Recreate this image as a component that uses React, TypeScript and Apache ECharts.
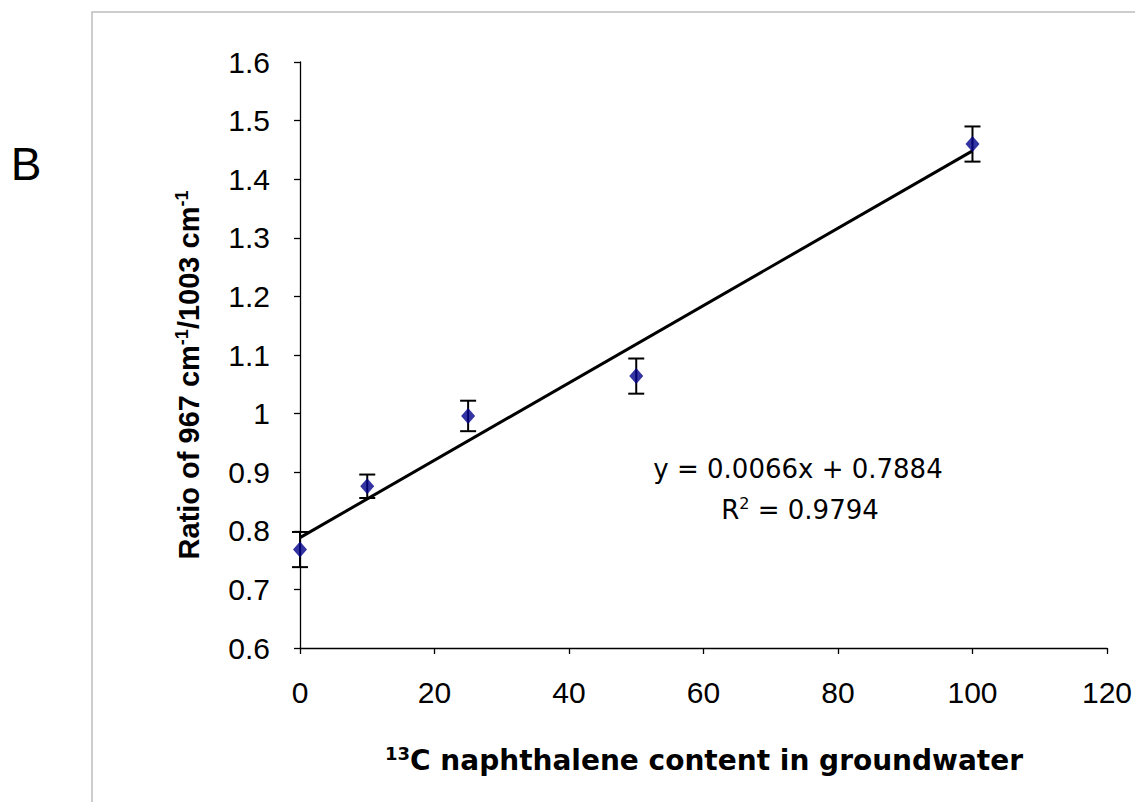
import React, { useEffect, useRef } from "react";
import * as echarts from "echarts";

const xValues = [0, 10, 25, 50, 100];
const yValues = [0.768, 0.876, 0.996, 1.064, 1.46];
const yErrors = [0.03, 0.02, 0.026, 0.03, 0.03];
const trendSlope = 0.0066;
const trendIntercept = 0.7884;
const trendRange = [0, 100];
const equationText = "y = 0.0066x + 0.7884";
const r2Text = "0.9794";
const xTitle = "C naphthalene content in groundwater";
const xTitleSup = "13";
const yTitleParts = ["Ratio of 967 cm", "/1003 cm"];
const yTitleSup = "-1";

export default function App() {
  const ref = useRef<HTMLDivElement>(null);
  useEffect(() => {
    const chart = echarts.init(ref.current!, null, { renderer: "svg" });
    const points = xValues.map((x, i) => [x, yValues[i]]);
    const errs = xValues.map((x, i) => [x, yValues[i] - yErrors[i], yValues[i] + yErrors[i]]);
    const trend = trendRange.map((x) => [x, trendSlope * x + trendIntercept]);
    const font = "Liberation Sans, Arial, sans-serif";
    const wide = "DejaVu Sans, Liberation Sans, sans-serif";
    chart.setOption({
      animation: false,
      backgroundColor: "#fff",
      textStyle: { fontFamily: font },
      grid: { left: 300, top: 62, right: 28, bottom: 154, containLabel: false },
      xAxis: {
        type: "value",
        min: 0,
        max: 120,
        interval: 20,
        splitLine: { show: false },
        axisLine: { show: true, onZero: false, lineStyle: { color: "#000", width: 1.3 } },
        axisTick: { show: true, inside: false, length: 6, lineStyle: { color: "#000", width: 1.3 } },
        axisLabel: { margin: 29, fontSize: 30, color: "#000", fontFamily: font },
      },
      yAxis: {
        type: "value",
        min: 0.6,
        max: 1.6,
        interval: 0.1,
        splitLine: { show: false },
        axisLine: { show: true, onZero: false, lineStyle: { color: "#000", width: 1.3 } },
        axisTick: { show: true, inside: false, length: 6, lineStyle: { color: "#000", width: 1.3 } },
        axisLabel: {
          margin: 30,
          fontSize: 30,
          color: "#000",
          fontFamily: font,
          formatter: (v: number) => String(Math.round(v * 10) / 10),
        },
      },
      graphic: [
        {
          type: "rect",
          shape: { x: 92, y: 12, width: 1200, height: 1000 },
          style: { fill: "none", stroke: "#bdbdbd", lineWidth: 1.5 },
          silent: true,
        },
        {
          type: "text",
          x: 26,
          y: 164,
          style: { text: "B", fontSize: 46, fill: "#000", fontFamily: font, align: "center", verticalAlign: "middle" },
        },
        {
          type: "text",
          x: 798,
          y: 469,
          style: { text: equationText, fontSize: 26, fill: "#000", fontFamily: wide, align: "center", verticalAlign: "middle" },
        },
        {
          type: "text",
          x: 800,
          y: 510,
          style: {
            text: "{b|R}{s|2}{b| = " + r2Text + "}",
            align: "center",
            verticalAlign: "middle",
            rich: {
              b: { fontSize: 26, fill: "#000", fontFamily: wide, lineHeight: 30 },
              s: { fontSize: 16, fill: "#000", fontFamily: wide, verticalAlign: "top", lineHeight: 14 },
            },
          },
        },
        {
          type: "text",
          x: 704,
          y: 760,
          style: {
            text: "{s|" + xTitleSup + "}{b|" + xTitle + "}",
            align: "center",
            verticalAlign: "middle",
            rich: {
              b: { fontSize: 28, fontWeight: "bold", fill: "#000", fontFamily: wide, lineHeight: 32 },
              s: { fontSize: 18, fontWeight: "bold", fill: "#000", fontFamily: wide, verticalAlign: "top", lineHeight: 16 },
            },
          },
        },
        {
          type: "text",
          x: 189,
          y: 375,
          rotation: Math.PI / 2,
          style: {
            text: "{b|" + yTitleParts[0] + "}{s|" + yTitleSup + "}{b|" + yTitleParts[1] + "}{s|" + yTitleSup + "}",
            align: "center",
            verticalAlign: "middle",
            rich: {
              b: { fontSize: 29, fontWeight: "bold", fill: "#000", fontFamily: font, lineHeight: 32 },
              s: { fontSize: 18, fontWeight: "bold", fill: "#000", fontFamily: font, verticalAlign: "top", lineHeight: 16 },
            },
          },
        },
      ],
      series: [
        {
          type: "line",
          data: trend,
          showSymbol: false,
          symbol: "none",
          lineStyle: { color: "#000", width: 3 },
          z: 2,
        },
        {
          type: "custom",
          data: errs,
          z: 3,
          renderItem: (params: any, api: any) => {
            const x = api.value(0);
            const lo = api.coord([x, api.value(1)]);
            const hi = api.coord([x, api.value(2)]);
            const hw = 8;
            const st = { stroke: "#000", lineWidth: 2 };
            return {
              type: "group",
              children: [
                { type: "line", shape: { x1: lo[0], y1: lo[1], x2: hi[0], y2: hi[1] }, style: st },
                { type: "line", shape: { x1: lo[0] - hw, y1: lo[1], x2: lo[0] + hw, y2: lo[1] }, style: st },
                { type: "line", shape: { x1: hi[0] - hw, y1: hi[1], x2: hi[0] + hw, y2: hi[1] }, style: st },
              ],
            };
          },
        },
        {
          type: "scatter",
          data: points,
          symbol: "diamond",
          symbolSize: [14, 16],
          itemStyle: { color: "#00008b" },
          z: 4,
        },
      ],
    });
    return () => chart.dispose();
  }, []);
  return <div ref={ref} style={{ position: "fixed", left: 0, top: 0, width: 1135, height: 802 }} />;
}
